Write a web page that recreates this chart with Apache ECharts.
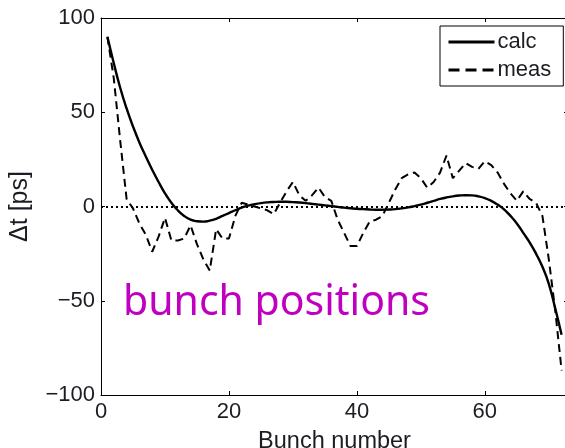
<!DOCTYPE html>
<html>
<head>
<meta charset="utf-8">
<script src="https://cdn.jsdelivr.net/npm/echarts@6/dist/echarts.min.js"></script>
<style>
  html, body { margin: 0; padding: 0; background: #fff; }
  #chart { width: 565px; height: 448px; }
</style>
</head>
<body>
<div id="chart"></div>
<script>
// Bunch index along the train
const bunches = [
  1, 2, 3, 4, 5, 6, 7, 8, 9, 10, 11, 12, 13, 14, 15, 16, 17, 18,
  19, 20, 21, 22, 23, 24, 25, 26, 27, 28, 29, 30, 31, 32, 33, 34, 35, 36,
  37, 38, 39, 40, 41, 42, 43, 44, 45, 46, 47, 48, 49, 50, 51, 52, 53, 54,
  55, 56, 57, 58, 59, 60, 61, 62, 63, 64, 65, 66, 67, 68, 69, 70, 71, 72
];

// Calculated arrival-time shift per bunch [ps]
const calc = [
  90, 76, 63, 52, 42.5, 34, 26.5, 19.5, 13, 7, 2, -2, -5, -7, -7.8, -8, -7.5, -6.5,
  -5, -3.5, -2, -0.6, 0.5, 1.2, 1.8, 2.2, 2.4, 2.5, 2.5, 2.3, 2.1, 1.8, 1.4, 1.0, 0.6, 0.2,
  -0.2, -0.6, -0.9, -1.2, -1.4, -1.6, -1.7, -1.7, -1.6, -1.4, -1.0, -0.5, 0.2, 1.0, 2.0, 3.0, 4.0, 4.8,
  5.4, 5.8, 6.0, 5.9, 5.4, 4.5, 3.0, 1.0, -1.5, -5, -9, -14, -19, -25, -32, -41, -54, -68
];

// Measured arrival-time shift per bunch [ps]
const meas = [
  90, 68, 35, 4, -1, -9, -15, -24, -16, -6, -18, -18, -17, -10, -20, -28, -34, -12,
  -17, -17, -5, 2, 1, 0, -1, -2, -4, 2, 8, 13, 6, 3, 6, 10, 5, 3,
  -7, -14, -21, -21, -14, -8, -7, -5, 2, 9, 15, 17, 18, 15, 10, 13, 18, 27,
  15, 19, 23, 21, 20, 24, 22, 18, 12, 7, 3, 8, 4, 2, -5, -28, -55, -87
];

const xTicksEvery = 20;
const yTicksEvery = 50;

const toPairs = (ys) => bunches.map((b, i) => [b, ys[i]]);
const minus = (v) => String(v).replace('-', '\u2212');

const ink = '#000';
const textInk = '#1c1c24';
const clear = 'rgba(0,0,0,0)';
const font = 'Liberation Sans, Arial, Helvetica, sans-serif';

const frameAxis = {
  axisLine: { show: true, onZero: false, lineStyle: { color: ink, width: 1 } },
  axisTick: { show: true, inside: true, length: 4, lineStyle: { color: ink, width: 1 } },
  splitLine: { show: false }
};

const chart = echarts.init(document.getElementById('chart'), null, { renderer: 'canvas' });

chart.setOption({
  animation: false,
  backgroundColor: '#fff',
  grid: { left: 101, top: 18, right: -3, bottom: 53, containLabel: false, outerBoundsMode: 'none' },
  legend: {
    orient: 'vertical',
    left: 440,
    top: 26,
    data: [
      { name: 'calc', lineStyle: { width: 3, type: 'solid' } },
      { name: 'meas', lineStyle: { width: 3, type: [11, 6] } }
    ],
    itemStyle: { color: clear, borderWidth: 0 },
    backgroundColor: '#fff',
    borderColor: ink,
    borderWidth: 1,
    borderRadius: 0,
    padding: [5, 12, 5, 7],
    itemWidth: 46,
    itemHeight: 14,
    itemGap: 6,
    textStyle: { fontSize: 22, fontFamily: font, color: textInk, padding: [0, 0, 0, -2] }
  },
  xAxis: [
    Object.assign({
      type: 'value', position: 'bottom', min: 0, max: 73, interval: xTicksEvery,
      name: 'Bunch number', nameLocation: 'middle', nameGap: 35,
      nameTextStyle: { fontSize: 23.5, fontFamily: font, color: textInk },
      axisLabel: {
        fontSize: 22, fontFamily: font, color: textInk, margin: 6,
        showMaxLabel: false,
        formatter: (v) => (v % xTicksEvery === 0 ? minus(v) : '')
      }
    }, frameAxis),
    Object.assign({
      type: 'value', position: 'top', min: 0, max: 73, interval: xTicksEvery,
      axisLabel: { show: false }
    }, frameAxis)
  ],
  yAxis: [
    Object.assign({
      type: 'value', position: 'left', min: -100, max: 100, interval: yTicksEvery,
      name: '\u0394t [ps]', nameLocation: 'middle', nameGap: 68,
      nameTextStyle: { fontSize: 25, fontFamily: font, color: textInk },
      axisLabel: {
        fontSize: 22, fontFamily: font, color: textInk, margin: 6,
        formatter: (v) => minus(v)
      }
    }, frameAxis),
    Object.assign({
      type: 'value', position: 'right', min: -100, max: 100, interval: yTicksEvery,
      axisLabel: { show: false }
    }, frameAxis)
  ],
  series: [
    {
      name: 'calc',
      type: 'line',
      data: toPairs(calc),
      smooth: true,
      symbol: 'none',
      lineStyle: { color: ink, width: 2.4, type: 'solid' },
      itemStyle: { color: clear },
      z: 3,
      markLine: {
        silent: true,
        symbol: 'none',
        label: { show: false },
        lineStyle: { color: ink, width: 2, type: [2, 3] },
        data: [{ yAxis: 0 }]
      }
    },
    {
      name: 'meas',
      type: 'line',
      data: toPairs(meas),
      symbol: 'none',
      lineStyle: { color: ink, width: 2, type: [8, 5] },
      itemStyle: { color: clear },
      z: 2
    }
  ],
  graphic: [
    {
      type: 'text',
      left: 123,
      top: 283,
      style: {
        text: 'bunch positions',
        font: '41px "Noto Sans", "Open Sans", sans-serif',
        fill: '#c000c0'
      },
      z: 10
    }
  ]
});
</script>
</body>
</html>
